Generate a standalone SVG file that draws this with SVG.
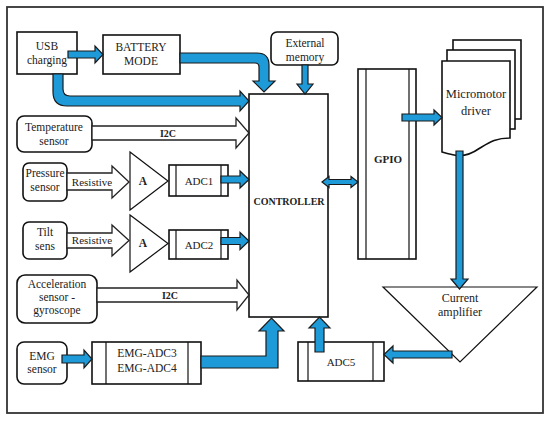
<svg xmlns="http://www.w3.org/2000/svg" width="550" height="422" viewBox="0 0 550 422">
<style>
text{font-family:"Liberation Serif","Times New Roman",serif;font-size:11.5px;fill:#222;text-anchor:middle}
.b{font-weight:bold}
.box{fill:#fff;stroke:#111;stroke-width:1.6}
.thin{fill:none;stroke:#111;stroke-width:1.2}
.blue{fill:#1f9ad8;stroke:#1a1a1a;stroke-width:1.2;stroke-linejoin:miter}
.wa{fill:#fff;stroke:#222;stroke-width:1.3}
</style>
<rect x="0" y="0" width="550" height="422" fill="#fff"/>
<rect x="7" y="7" width="536" height="406" fill="none" stroke="#333" stroke-width="1.8"/>

<g id="usb">
<rect class="box" x="17" y="32" width="60" height="42" stroke-width="2"/>
<text x="47" y="50">USB</text>
<text x="47" y="64">charging</text>
</g>
<g id="battery">
<rect class="box" x="103" y="35" width="77" height="39" stroke-width="2"/>
<text x="141" y="51">BATTERY</text>
<text x="141" y="65">MODE</text>
</g>
<g id="extmem">
<rect class="box" x="271" y="32" width="67" height="33" rx="6"/>
<text x="305" y="47">External</text>
<text x="305" y="61">memory</text>
</g>
<g id="controller">
<rect class="box" x="249" y="94" width="79" height="223"/>
<text x="289" y="205" class="b" style="font-size:10px">CONTROLLER</text>
</g>
<g id="gpio">
<rect class="box" x="358" y="69" width="58" height="190"/>
<line class="thin" x1="366" y1="69" x2="366" y2="259"/>
<line class="thin" x1="409" y1="69" x2="409" y2="259"/>
<text x="388" y="163" class="b" style="font-size:11px">GPIO</text>
</g>
<g id="micromotor">
<rect class="box" x="453" y="40" width="68" height="79"/>
<rect class="box" x="447" y="50" width="68" height="79"/>
<path class="box" d="M442,61 H510 V138 C496,138 490,142 480,148 C470,155 462,157 454,155 C449,154 445,153 442,152 Z"/>
<text x="476" y="98" style="font-size:12.5px">Micromotor</text>
<text x="476" y="115" style="font-size:12.5px">driver</text>
</g>
<g id="temperature">
<rect class="box" x="17" y="116" width="75" height="36" rx="7"/>
<text x="54" y="131">Temperature</text>
<text x="54" y="145">sensor</text>
</g>
<g id="pressure">
<rect class="box" x="23" y="163" width="44" height="38" rx="6"/>
<text x="45" y="177">Pressure</text>
<text x="45" y="191">sensor</text>
</g>
<g id="amp1">
<polygon class="thin" style="fill:#fff" points="130,152 130,210 168,181"/>
<text x="143" y="185" class="b">A</text>
</g>
<g id="adc1">
<rect class="box" x="169" y="165" width="59" height="31"/>
<line class="thin" x1="176" y1="165" x2="176" y2="196"/>
<line class="thin" x1="221" y1="165" x2="221" y2="196"/>
<text x="199" y="185" style="font-size:11px">ADC1</text>
</g>
<g id="tilt">
<rect class="box" x="23" y="222" width="44" height="37" rx="6"/>
<text x="45" y="236">Tilt</text>
<text x="45" y="250">sens</text>
</g>
<g id="amp2">
<polygon class="thin" style="fill:#fff" points="130,215 130,272 168,243.5"/>
<text x="143" y="247" class="b">A</text>
</g>
<g id="adc2">
<rect class="box" x="169" y="230" width="59" height="29"/>
<line class="thin" x1="176" y1="230" x2="176" y2="259"/>
<line class="thin" x1="221" y1="230" x2="221" y2="259"/>
<text x="199" y="249" style="font-size:11px">ADC2</text>
</g>
<g id="accel">
<rect class="box" x="17" y="275" width="80" height="48" rx="8"/>
<text x="57" y="288">Acceleration</text>
<text x="57" y="301">sensor -</text>
<text x="57" y="314">gyroscope</text>
</g>
<g id="emg">
<rect class="box" x="17" y="342" width="50" height="42" rx="7"/>
<text x="42" y="360">EMG</text>
<text x="42" y="373">sensor</text>
</g>
<g id="emgadc">
<rect class="box" x="92" y="342" width="109" height="42"/>
<line class="thin" x1="106" y1="342" x2="106" y2="384"/>
<line class="thin" x1="188" y1="342" x2="188" y2="384"/>
<text x="147" y="357">EMG-ADC3</text>
<text x="147" y="372">EMG-ADC4</text>
</g>
<g id="amplifier">
<polygon class="thin" style="fill:#fff" points="383,287 537,287 460,362"/>
<text x="460" y="302" style="font-size:12px">Current</text>
<text x="460" y="316" style="font-size:12px">amplifier</text>
</g>
<g id="adc5">
<rect class="box" x="298" y="342" width="86" height="39"/>
<line class="thin" x1="308" y1="342" x2="308" y2="381"/>
<line class="thin" x1="373" y1="342" x2="373" y2="381"/>
<text x="341" y="366" style="font-size:11px">ADC5</text>
</g>

<g id="connectors">
<polygon class="blue" points="68,51 95,51 95,46 103,54.5 95,63 95,58 68,58"/>
<path class="blue" d="M180,53 H257 Q269,53 269,65 V81 H275 L264,92 L253,81 H259 V67 Q259,63 255,63 H180 Z"/>
<path class="blue" d="M53,74 V92 Q53,106 67,106 H240 V111 L249,101 L240,91 V96 H70 Q63,96 63,89 V74 Z"/>
<polygon class="blue" points="302,65 308,65 308,84 313,84 305,94 297,84 302,84"/>
<polygon class="blue" points="322,182 329,176.5 329,179.5 351,179.5 351,176.5 358,182 351,187.5 351,184.5 329,184.5 329,187.5"/>
<polygon class="blue" points="402,114 434,114 434,110 442,117.5 434,125 434,121 402,121"/>
<polygon class="blue" points="456,151 463,151 463,279 468,279 459.5,289 451,279 456,279"/>
<polygon class="blue" points="452,351 393,351 393,346 384,354.5 393,363 393,358 452,358"/>
<polygon class="blue" points="315,352 315,328 309,328 319.5,317 330,328 324,328 324,352"/>
<path class="blue" d="M201,356 H266 V331 H259 L271.5,318 L284,331 H278 V368 H201 Z"/>
<polygon class="blue" points="62,355 84,355 84,350 92,359 84,368 84,363 62,363"/>
<polygon class="blue" points="221,176 240,176 240,171 249,179.5 240,188 240,183 221,183"/>
<polygon class="blue" points="221,237.5 240,237.5 240,232.5 249,241 240,249.5 240,244.5 221,244.5"/>
<polygon class="wa" points="92,126 236,126 236,118 249,133 236,148 236,140 92,140"/>
<polygon class="wa" points="97,288 237,288 237,280 249,295 237,310 237,302 97,302"/>
<polygon class="wa" points="67,173 112,173 112,166 129,182 112,198 112,190 67,190"/>
<polygon class="wa" points="67,233 112,233 112,225 129,240.5 112,256 112,248 67,248"/>
<text x="168" y="137" class="b" style="font-size:10px">I2C</text>
<text x="170" y="299" class="b" style="font-size:10px">I2C</text>
<text x="92" y="186" style="font-size:11px">Resistive</text>
<text x="92" y="244" style="font-size:11px">Resistive</text>
</g>
</svg>
